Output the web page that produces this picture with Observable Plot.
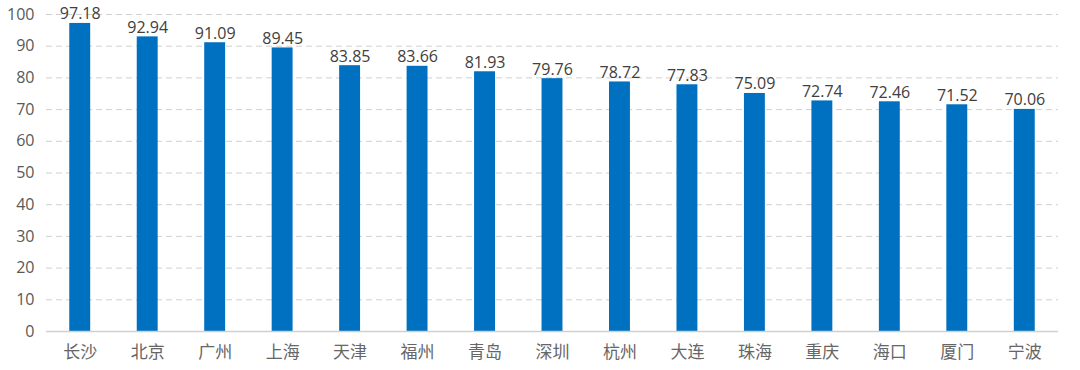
<!DOCTYPE html>
<html><head><meta charset="utf-8">
<script src="https://cdn.jsdelivr.net/npm/d3@7"></script>
<script src="https://cdn.jsdelivr.net/npm/@observablehq/plot@0.6"></script>
<style>body{margin:0;background:#fff;} #chart{width:1080px;height:370px;}</style>
</head><body><div id="chart"></div>
<script>
const cities = ["长沙","北京","广州","上海","天津","福州","青岛","深圳","杭州","大连","珠海","重庆","海口","厦门","宁波"];
const values = [97.18,92.94,91.09,89.45,83.85,83.66,81.93,79.76,78.72,77.83,75.09,72.74,72.46,71.52,70.06];
const yTicks = [0,10,20,30,40,50,60,70,80,90,100];
const data = cities.map((c,i)=>({city:c, value:values[i]}));

const chart = Plot.plot({
  width: 1080, height: 370,
  marginLeft: 46, marginRight: 22, marginTop: 14, marginBottom: 39,
  style: {fontFamily: "'Noto Sans CJK SC', 'DejaVu Sans', sans-serif", fontSize: "16px", background: "#fff"},
  x: {domain: cities, paddingInner: 0.69, paddingOuter: 0.345, align: 0.5, round: false, label: null, tickSize: 0},
  y: {domain: [0,100], ticks: yTicks, label: null, tickSize: 0},
  marks: [
    Plot.gridY(yTicks.filter(t=>t>0), {stroke: "#d0d0d0", strokeOpacity: 1, strokeDasharray: "6,4", strokeWidth: 1}),
    Plot.barY(data, {x: "city", y: "value", fill: "#0070C0"}),
    Plot.ruleY([0], {stroke: "#d0d0d0", strokeWidth: 1.5}),
    Plot.text(data, {x: "city", y: "value", text: d => d.value.toFixed(2), dy: -4, lineAnchor: "bottom", fill: "#404040", fontSize: 16, fontFamily: "'Open Sans','DejaVu Sans',sans-serif"}),
    Plot.axisY({ticks: yTicks, tickSize: 0, tickPadding: 12, fill: "#595959", fontSize: 16, fontFamily: "'Open Sans','DejaVu Sans',sans-serif", label: null}),
    Plot.axisX({tickSize: 0, tickPadding: 14, fill: "#666666", fontSize: 17, label: null})
  ]
});
document.getElementById("chart").appendChild(chart);
</script></body></html>
